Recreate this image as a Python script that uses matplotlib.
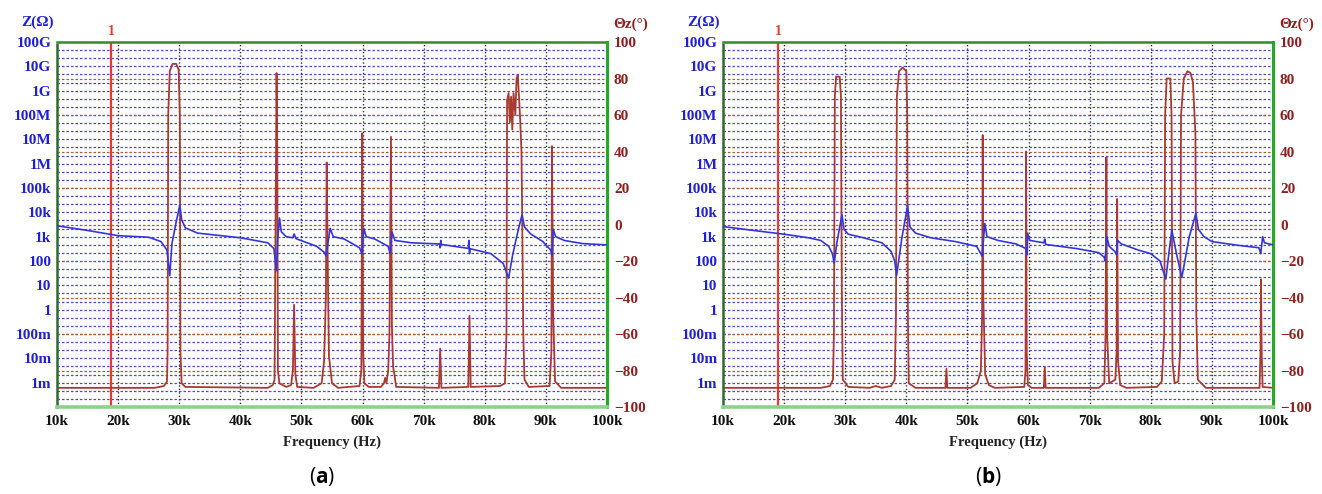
import numpy as np
import matplotlib.pyplot as plt

plt.rcParams['font.family'] = ['Liberation Serif', 'DejaVu Serif']
plt.rcParams['font.weight'] = 'bold'
plt.rcParams['mathtext.fontset'] = 'custom'
plt.rcParams['mathtext.rm'] = 'Open Sans'
plt.rcParams['mathtext.bf'] = 'Open Sans:bold'

# axis ticks
freq_ticks = [10, 20, 30, 40, 50, 60, 70, 80, 90, 100]
freq_labels = ['10k', '20k', '30k', '40k', '50k', '60k', '70k', '80k', '90k', '100k']
z_ticks = [1e-3, 1e-2, 1e-1, 1, 10, 100, 1e3, 1e4, 1e5, 1e6, 1e7, 1e8, 1e9, 1e10, 1e11]
z_labels = ['1m', '10m', '100m', '1', '10', '100', '1k', '10k', '100k',
            '1M', '10M', '100M', '1G', '10G', '100G']
phase_ticks = [-100, -80, -60, -40, -20, 0, 20, 40, 60, 80, 100]
marker_freq = [18.9, 19.0]

# panel (a) impedance magnitude (kHz, ohm)
a_mag_f = [10.0, 15.0, 20.0, 25.0, 27.0, 28.0, 28.45, 28.8, 29.5, 30.1, 30.4, 31.0, 33.0,
           40.0, 44.5, 45.5, 45.9, 46.1, 46.4, 46.7, 47.5, 48.6, 48.8, 49.1, 52.5, 53.8,
           54.0, 54.4, 54.7, 55.2, 57.0, 59.5, 59.9, 60.2, 60.6, 62.0, 64.2, 64.5, 64.8,
           65.3, 68.0, 72.6, 72.7, 72.8, 72.9, 77.3, 77.4, 77.5, 77.6, 81.0, 83.0, 83.9,
           84.6, 85.5, 86.1, 86.5, 87.5, 89.5, 90.8, 91.0, 91.2, 91.6, 93.0, 96.0, 100.0]
a_mag_z = [2.8e3, 1.8e3, 1.1e3, 950, 630, 280, 25, 500, 4e3, 2e4, 5e3, 2.3e3, 1.4e3,
           900, 560, 320, 40, 700, 5.9e3, 1.6e3, 1e3, 900, 1.3e3, 830, 400, 220,
           160, 700, 2.2e3, 1e3, 800, 350, 200, 2.2e3, 1e3, 800, 400, 200, 1.6e3,
           700, 560, 500, 350, 700, 480, 330, 700, 200, 320, 200, 80, 20,
           200, 2e3, 8e3, 2.5e3, 1.3e3, 630, 280, 160, 2e3, 1e3, 700, 520, 460]

# panel (a) phase (kHz, degrees)
a_ph_f = [10.0, 26.0, 27.5, 28.0, 28.1, 28.2, 28.45, 28.9, 29.5, 29.9, 30.1, 30.2, 30.4, 31.0,
          44.5, 45.3, 45.6, 45.8, 45.93, 46.05, 46.15, 46.4, 47.5, 48.3, 48.6, 48.8, 49.0,
          49.3, 52.0, 53.3, 53.7, 54.0, 54.13, 54.3, 54.5, 55.0, 56.0, 59.5, 59.8, 59.95,
          60.1, 60.3, 61.0, 63.0, 63.5, 63.7, 63.9, 64.2, 64.4, 64.65, 64.8, 65.0, 65.2,
          65.5, 72.5, 72.7, 72.9, 77.3, 77.5, 77.7, 82.5, 83.3, 83.55, 83.65, 83.9, 84.1,
          84.3, 84.5, 84.7, 85.0, 85.2, 85.4, 85.6, 85.8, 86.0, 86.1, 86.3, 86.5, 87.2,
          90.6, 90.9, 91.0, 91.2, 91.5, 92.5, 100.0]
a_ph_deg = [-89.5, -89.5, -88.5, -86, -70, 60, 84, 88, 88, 85, 60, -70, -87, -89,
            -89.5, -88, -85, 20, 83, 40, -80, -87, -89, -88, -80, -44, -82,
            -89, -89.5, -87, -75, -40, 34, -20, -72, -87, -89.5, -88.5, -80, 50,
            -70, -87, -89, -89, -87, -84, -87, -80, -60, 48, -55, -78, -82,
            -89, -89.5, -68, -89.5, -89, -50, -89, -88.5, -87, -60, 68, 72, 56,
            70, 52, 72, 60, 80, 82, 70, 57, 40, 12, -60, -85, -89,
            -88.5, -70, 43, -50, -86, -89.5, -89.5]

# panel (b) impedance magnitude (kHz, ohm)
b_mag_f = [10.0, 15.0, 20.0, 24.0, 26.0, 27.3, 27.9, 28.2, 28.6, 29.46, 29.8, 30.5, 33.0,
           36.0, 37.5, 38.1, 38.4, 39.3, 40.2, 40.6, 41.5, 44.0, 48.0, 51.5, 52.4, 52.84,
           53.2, 55.0, 58.0, 59.6, 59.78, 59.84, 60.2, 62.5, 62.65, 62.8, 68.0, 71.5, 72.4,
           72.5, 72.8, 73.2, 74.1, 74.4, 74.55, 75.2, 78.0, 80.0, 81.5, 82.46, 83.0, 83.44,
           84.2, 85.08, 86.3, 87.38, 87.8, 88.7, 90.0, 94.0, 97.7, 98.0, 98.3, 98.6, 100.0]
b_mag_z = [2.6e3, 1.8e3, 1.26e3, 900, 700, 400, 200, 80, 500, 8e3, 2e3, 1.26e3, 900,
           560, 250, 100, 25, 1e3, 1.8e4, 2.5e3, 1.4e3, 900, 630, 400, 160, 3.5e3,
           1e3, 700, 500, 320, 180, 1.4e3, 700, 560, 800, 480, 320, 220, 140,
           100, 1e3, 400, 250, 180, 700, 500, 280, 200, 100, 18, 250, 1.9e3,
           200, 21, 1e3, 9e3, 2e3, 1e3, 630, 450, 350, 200, 1e3, 560, 460]

# panel (b) phase (kHz, degrees)
b_ph_f = [10.0, 26.0, 27.5, 28.0, 28.15, 28.3, 28.5, 29.1, 29.3, 29.45, 29.6, 30.5, 34.0,
          35.0, 36.0, 37.5, 38.1, 38.3, 38.45, 38.8, 39.4, 40.0, 40.15, 40.25, 40.4, 41.5,
          46.4, 46.56, 46.7, 50.5, 51.6, 52.2, 52.4, 52.5, 52.6, 52.9, 53.5, 54.5, 59.3,
          59.5, 59.6, 59.7, 59.9, 60.5, 62.5, 62.65, 62.8, 71.5, 72.4, 72.6, 72.74, 72.85,
          73.2, 74.2, 74.4, 74.5, 74.65, 75.0, 76.0, 81.0, 81.8, 82.2, 82.35, 82.6, 83.2,
          83.4, 83.55, 83.9, 84.5, 84.8, 84.95, 85.4, 86.0, 86.5, 86.9, 87.3, 87.45, 87.7,
          89.0, 97.8, 97.95, 98.03, 98.15, 98.3, 100.0]
b_ph_deg = [-89.5, -89.5, -88.5, -85, -60, 70, 81, 81, 70, -40, -85, -89, -89.5,
            -88.5, -89.5, -88.5, -85, -50, 70, 84, 86, 84, 60, -50, -87, -89.5,
            -89.5, -79, -89.5, -89.5, -87, -80, -50, 49, -40, -82, -88, -89.5, -89,
            -80, 40, -70, -88, -89.5, -89.5, -78, -89.5, -89.5, -87, -60, 37, -60,
            -87, -85, -70, 14, -75, -88, -89.5, -89, -86, -60, 60, 80, 80,
            60, -75, -87, -86, -70, 60, 80, 84, 83, 78, 50, -50, -85,
            -89.5, -89.5, -70, -30, -70, -89, -89.5]

W, H = 1322, 494
fig = plt.figure(figsize=(W / 100, H / 100), dpi=100)

blue = '#3535dc'
brown = '#a83a32'
tick_blue = '#1f1fd6'
tick_red = '#8e1f1f'


def draw_panel(left_px, mag_f, mag_z, ph_f, ph_deg, marker, tag):
    rect = [left_px / W, 1 - 407 / H, 550 / W, 365 / H]
    ax = fig.add_axes(rect)
    axp = ax.twinx()
    ax.set_zorder(axp.get_zorder() + 1)
    ax.patch.set_visible(False)

    # phase axes (drawn below): grid + phase curve
    axp.set_ylim(-100, 100)
    axp.set_xlim(10, 100)
    for yv in np.linspace(-100, 100, 46)[1:-1]:
        axp.axhline(yv, color='#4a4ad8', lw=0.9, ls=(0, (2, 1.6)), zorder=1)
    for yv in phase_ticks[1:-1]:
        axp.axhline(yv, color='#b05a34', lw=0.9, ls=(0, (2, 1.6)), zorder=1.5)
    for xv in freq_ticks[1:-1]:
        axp.axvline(xv, color='#333333', lw=1.0, ls=(0, (1, 1.5)), zorder=1.6)
    axp.axvline(marker, color='#e83a30', lw=1.6, zorder=2)
    axp.plot(ph_f, ph_deg, color=brown, lw=1.3, zorder=3)
    axp.set_yticks(phase_ticks)
    axp.set_yticklabels([str(t).replace('-', '\u2212') for t in phase_ticks])
    axp.tick_params(axis='y', length=0, pad=5, labelsize=11, labelcolor=tick_red)
    for s in axp.spines.values():
        s.set_visible(False)

    # magnitude axes (on top)
    ax.plot(mag_f, mag_z, color=blue, lw=1.2, zorder=4)
    ax.set_yscale('log')
    ax.set_ylim(1e-4, 1e11)
    ax.set_xlim(10, 100)
    ax.set_yticks(z_ticks)
    ax.set_yticklabels(z_labels)
    ax.minorticks_off()
    ax.set_xticks(freq_ticks)
    ax.set_xticklabels(freq_labels)
    ax.tick_params(axis='y', length=0, pad=4, labelsize=11, labelcolor=tick_blue)
    ax.tick_params(axis='x', length=0, pad=6, labelsize=11, labelcolor='#111111')
    ax.spines['top'].set_color('#2f8a2f')
    ax.spines['top'].set_linestyle((0, (1, 1)))
    ax.spines['top'].set_linewidth(1.8)
    ax.spines['left'].set_color('#2f6a2f')
    ax.spines['left'].set_linestyle((0, (1, 1)))
    ax.spines['left'].set_linewidth(1.8)
    ax.spines['right'].set_color('#22aa22')
    ax.spines['right'].set_linewidth(2.2)
    ax.spines['bottom'].set_color('#8fd08f')
    ax.spines['bottom'].set_linewidth(2.6)

    cx = left_px + 275
    fig.text(cx / W, 1 - 442 / H, 'Frequency (Hz)', ha='center', va='center',
             fontsize=10.5, fontweight='bold', color='#222222')
    fig.text((left_px - 3) / W, 1 - 22 / H, 'Z(\u03a9)', ha='right', va='center',
             fontsize=11, fontweight='bold', color=tick_blue)
    fig.text((left_px + 556) / W, 1 - 24 / H, '\u0398z(\u00b0)', ha='left', va='center',
             fontsize=11, fontweight='bold', color=tick_red)
    ax.text(marker, 1.03, '1', transform=ax.get_xaxis_transform(), ha='center',
            va='center', fontsize=10, fontweight='bold', color='#e83a30')
    fig.text((left_px + 265) / W, 1 - 476 / H, '($\\mathbf{' + tag + '}$)', ha='center',
             va='center', fontsize=15, family='Open Sans', fontweight='normal',
             color='black')
    return ax


draw_panel(57, a_mag_f, a_mag_z, a_ph_f, a_ph_deg, marker_freq[0], 'a')
draw_panel(723, b_mag_f, b_mag_z, b_ph_f, b_ph_deg, marker_freq[1], 'b')

fig.savefig('out.png', dpi=100)
